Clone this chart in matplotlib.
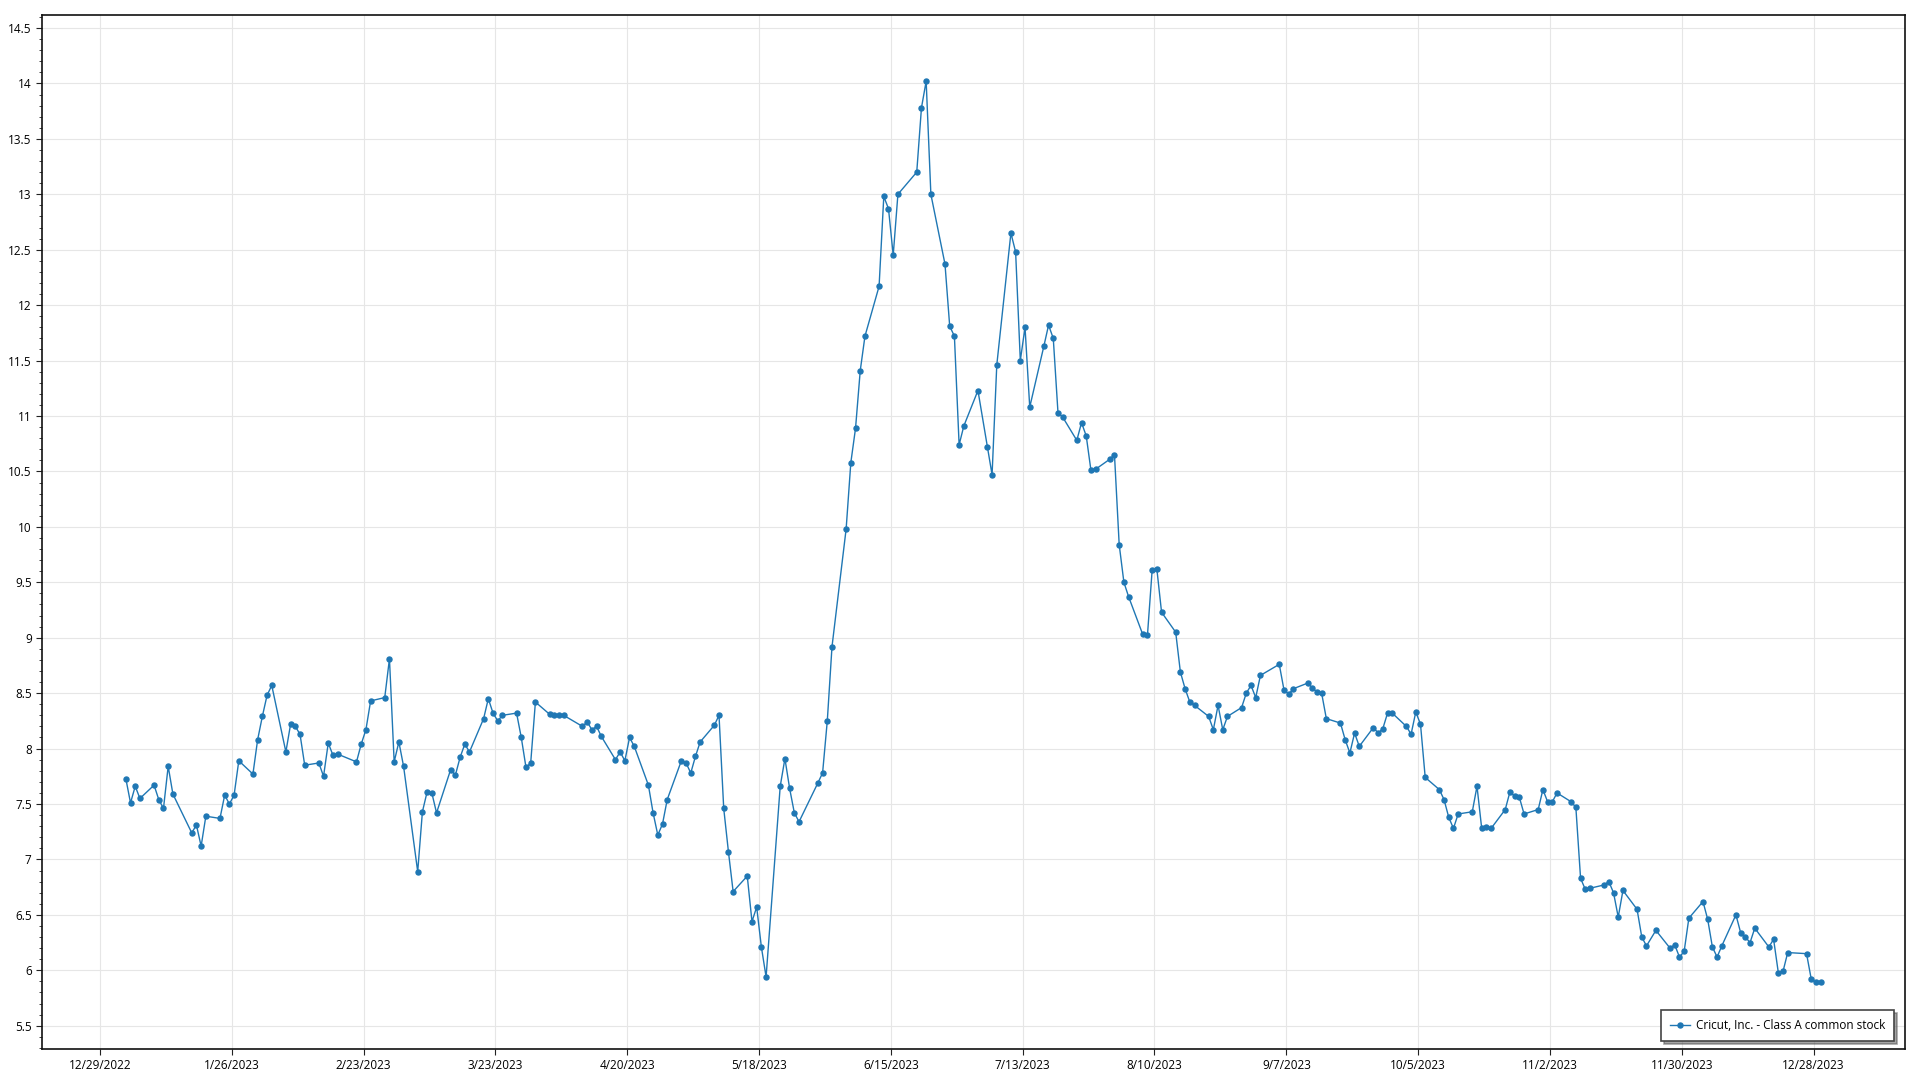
"""
Cricut, Inc. daily closing price, 2023.
"""

import pandas as pd
import numpy as np
import matplotlib
matplotlib.use("Agg")
import matplotlib.pyplot as plt
import matplotlib.dates as mdates
from matplotlib.ticker import MultipleLocator, AutoMinorLocator

# NYSE trading days in 2023
holidays = ["2023-01-02", "2023-01-16", "2023-02-20", "2023-04-07", "2023-05-29",
            "2023-06-19", "2023-07-04", "2023-09-04", "2023-11-23", "2023-12-25"]
dates = pd.bdate_range("2023-01-03", "2023-12-29", freq="C", holidays=holidays)

jan = [7.73, 7.51, 7.66, 7.55, 7.67, 7.54, 7.46, 7.84, 7.59, 7.24, 7.31, 7.12, 7.39,
       7.37, 7.58, 7.50, 7.58, 7.89, 7.77, 8.08]
feb = [8.29, 8.48, 8.57, 7.97, 8.22, 8.20, 8.13, 7.85, 7.87, 7.75, 8.05, 7.94, 7.95,
       7.88, 8.04, 8.17, 8.43, 8.46, 8.81]
mar = [7.88, 8.06, 7.84, 6.89, 7.43, 7.61, 7.60, 7.42, 7.81, 7.76, 7.92, 8.04, 7.97,
       8.27, 8.45, 8.32, 8.25, 8.30, 8.32, 8.10, 7.83, 7.87, 8.42]
apr = [8.31, 8.30, 8.30, 8.30, 8.20, 8.24, 8.17, 8.20, 8.11, 7.90, 7.97, 7.89, 8.10,
       8.02, 7.67, 7.42, 7.22, 7.32, 7.54]
may = [7.89, 7.87, 7.78, 7.93, 8.06, 8.21, 8.30, 7.46, 7.07, 6.71, 6.85, 6.44, 6.57,
       6.21, 5.94, 7.66, 7.91, 7.64, 7.42, 7.34, 7.69, 7.78]
jun = [8.25, 8.92, 9.98, 10.58, 10.89, 11.41, 11.72, 12.17, 12.98, 12.87, 12.45, 13.00,
       13.20, 13.78, 14.02, 13.00, 12.37, 11.81, 11.72, 10.74, 10.91]
jul = [11.23, 10.72, 10.47, 11.46, 12.65, 12.48, 11.50, 11.80, 11.08, 11.63, 11.82,
       11.70, 11.03, 10.99, 10.78, 10.94, 10.82, 10.51, 10.52, 10.61]
aug = [10.65, 9.84, 9.50, 9.37, 9.03, 9.02, 9.61, 9.62, 9.23, 9.05, 8.69, 8.54, 8.42,
       8.39, 8.29, 8.17, 8.39, 8.17, 8.29, 8.37, 8.50, 8.57, 8.46]
sep = [8.66, 8.76, 8.53, 8.49, 8.54, 8.59, 8.55, 8.51, 8.50, 8.27, 8.23, 8.08, 7.96,
       8.14, 8.02, 8.19, 8.14, 8.18, 8.32, 8.32]
oct_ = [8.20, 8.13, 8.33, 8.22, 7.74, 7.63, 7.54, 7.38, 7.28, 7.41, 7.43, 7.66, 7.28,
        7.29, 7.28, 7.45, 7.61, 7.57, 7.56, 7.41, 7.45, 7.63]
nov = [7.52, 7.52, 7.60, 7.52, 7.47, 6.83, 6.73, 6.74, 6.77, 6.80, 6.70, 6.48, 6.72,
       6.55, 6.30, 6.22, 6.36, 6.20, 6.23, 6.12, 6.17]
dec = [6.47, 6.62, 6.46, 6.21, 6.12, 6.22, 6.50, 6.34, 6.30, 6.25, 6.38, 6.21, 6.28,
       5.98, 5.99, 6.16, 6.15, 5.92, 5.89, 5.89]

prices = jan + feb + mar + apr + may + jun + jul + aug + sep + oct_ + nov + dec
label = "Cricut, Inc. - Class A common stock"

plt.rcParams["font.family"] = ["Open Sans", "DejaVu Sans"]

fig = plt.figure(figsize=(19.2, 10.8), dpi=100)
ax = fig.add_axes([0.0219, 0.0287, 0.9703, 0.9577])

x = dates + pd.Timedelta(hours=12)
ax.plot(x, prices, color="#1f77b4", lw=1.0, marker="o", markersize=3.6,
        label=label)

# axes limits
ax.set_xlim(pd.Timestamp("2022-12-16 17:00"), pd.Timestamp("2024-01-16 10:00"))
ax.set_ylim(5.29, 14.62)

# ticks
xticks = pd.date_range("2022-12-29", periods=14, freq="28D")
ax.set_xticks(xticks)
ax.set_xticklabels([f"{d.month}/{d.day}/{d.year}" for d in xticks])
ax.yaxis.set_major_locator(MultipleLocator(0.5))
ax.yaxis.set_minor_locator(AutoMinorLocator(5))
ax.set_yticklabels([f"{v:g}" for v in ax.get_yticks()])
ax.tick_params(axis="both", which="major", labelsize=8.5, length=4, color="#222222")
ax.tick_params(axis="y", which="minor", length=2.5, color="#222222")

ax.grid(True, which="major", color="#e6e6e6", lw=0.8)
ax.set_axisbelow(True)
for s in ax.spines.values():
    s.set_linewidth(1.2)
    s.set_color("#111111")

leg = ax.legend(loc="lower right", fontsize=8.5, fancybox=False, shadow=True,
                edgecolor="#444444", framealpha=1, borderpad=0.75,
                handlelength=1.7, handletextpad=0.5,
                bbox_to_anchor=(0.9975, 0.002))
leg.get_frame().set_linewidth(1.2)

plt.savefig("out.png", dpi=100)
plt.close()
